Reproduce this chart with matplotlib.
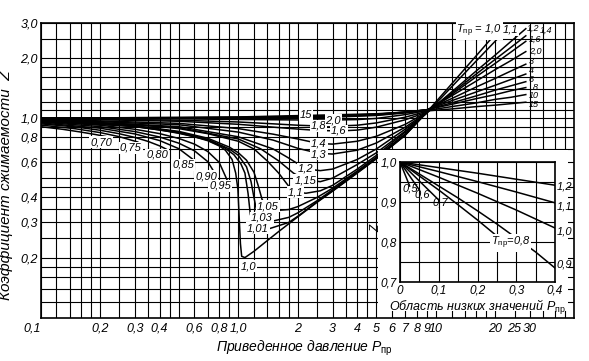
import matplotlib.pyplot as plt
from matplotlib.patches import Rectangle
from matplotlib.ticker import FixedLocator, NullFormatter

plt.rcParams['font.family'] = ['Liberation Sans', 'DejaVu Sans']
plt.rcParams['mathtext.fontset'] = 'custom'
plt.rcParams['mathtext.rm'] = 'Liberation Sans'
plt.rcParams['mathtext.it'] = 'Liberation Sans:italic'

# ===== 1. main chart data: reduced pressure P_pr and Z for each T_pr =====
# subcritical (vapour) curves
p_070 = [0.1, 0.13, 0.16, 0.19, 0.217]
z_070 = [0.905, 0.877, 0.85, 0.826, 0.805]
p_075 = [0.1, 0.15, 0.2, 0.25, 0.31]
z_075 = [0.922, 0.883, 0.845, 0.806, 0.758]
p_080 = [0.1, 0.15, 0.2, 0.25, 0.3, 0.35, 0.4, 0.43]
z_080 = [0.935, 0.902, 0.868, 0.834, 0.799, 0.763, 0.725, 0.70]
p_085 = [0.1, 0.2, 0.3, 0.4, 0.5, 0.59]
z_085 = [0.945, 0.889, 0.832, 0.771, 0.702, 0.62]
p_090 = [0.1, 0.2, 0.3, 0.4, 0.5, 0.6, 0.7, 0.76]
z_090 = [0.954, 0.905, 0.855, 0.803, 0.748, 0.685, 0.605, 0.53]
p_095 = [0.1, 0.2, 0.3, 0.4, 0.5, 0.6, 0.7, 0.8, 0.887]
z_095 = [0.96, 0.92, 0.878, 0.835, 0.79, 0.74, 0.68, 0.6, 0.478]

# supercritical curves
p_100 = [0.1, 0.2, 0.3, 0.4, 0.5, 0.6, 0.7, 0.8, 0.86, 0.93, 0.97, 0.995, 1.01, 1.025,
         1.04, 1.08, 1.2, 1.4, 1.6, 2.0, 2.5, 3.0, 4.0, 5.0, 7.0, 9.0, 12.0, 16.0, 20.0, 22.4]
z_100 = [0.967, 0.935, 0.905, 0.872, 0.838, 0.805, 0.77, 0.725, 0.69, 0.62, 0.53, 0.44, 0.32, 0.235,
         0.203, 0.2, 0.215, 0.243, 0.27, 0.32, 0.378, 0.43, 0.53, 0.625, 0.82, 1.07, 1.48, 2.05, 2.64, 3.0]
p_101 = [0.1, 0.3, 0.5, 0.7, 0.85, 0.95, 1.03, 1.08, 1.12, 1.15, 1.2, 1.26, 1.45, 1.8, 2.0,
         2.5, 3.0, 4.0, 5.0, 7.0, 9.0]
z_101 = [0.968, 0.907, 0.843, 0.775, 0.71, 0.655, 0.59, 0.53, 0.42, 0.33, 0.29, 0.281, 0.28, 0.30, 0.322,
         0.38, 0.432, 0.533, 0.628, 0.823, 1.07]
p_103 = [0.1, 0.3, 0.5, 0.7, 0.9, 1.0, 1.1, 1.16, 1.2, 1.24, 1.32, 1.5, 1.8, 2.0, 2.5, 3.0,
         4.0, 5.0, 7.0, 9.0]
z_103 = [0.969, 0.91, 0.85, 0.782, 0.70, 0.65, 0.57, 0.48, 0.40, 0.34, 0.316, 0.305, 0.318, 0.335, 0.385, 0.437,
         0.537, 0.632, 0.827, 1.07]
p_105 = [0.1, 0.3, 0.5, 0.7, 0.9, 1.0, 1.1, 1.2, 1.26, 1.32, 1.41, 1.6, 1.8, 2.0, 2.5, 3.0,
         4.0, 5.0, 7.0, 9.0]
z_105 = [0.971, 0.915, 0.857, 0.792, 0.715, 0.67, 0.615, 0.535, 0.46, 0.39, 0.362, 0.345, 0.348, 0.36, 0.40, 0.445,
         0.543, 0.638, 0.832, 1.07]
p_110 = [0.1, 0.3, 0.5, 0.7, 1.0, 1.2, 1.4, 1.6, 1.8, 1.94, 2.2, 2.6, 3.0, 4.0, 5.0, 7.0, 9.0,
         12.0, 16.0, 20.0, 24.5]
z_110 = [0.975, 0.93, 0.885, 0.835, 0.765, 0.70, 0.61, 0.53, 0.455, 0.426, 0.42, 0.432, 0.46, 0.555, 0.65, 0.85, 1.06,
         1.43, 1.93, 2.43, 3.0]
p_115 = [0.1, 0.5, 1.0, 1.3, 1.6, 1.9, 2.18, 2.6, 3.0, 4.0, 5.0, 7.0, 9.0]
z_115 = [0.978, 0.895, 0.785, 0.70, 0.61, 0.53, 0.49, 0.48, 0.50, 0.585, 0.67, 0.86, 1.06]
p_120 = [0.1, 0.5, 1.0, 1.5, 1.8, 2.2, 2.6, 3.0, 4.0, 5.0, 7.0, 9.0, 12.0, 16.0, 20.0, 24.0, 28.5]
z_120 = [0.981, 0.905, 0.805, 0.70, 0.63, 0.556, 0.545, 0.555, 0.62, 0.70, 0.88, 1.06, 1.35, 1.72, 2.07, 2.42, 2.8]
p_130 = [0.1, 0.5, 1.0, 1.5, 2.0, 2.56, 3.0, 4.0, 5.0, 7.0, 9.0]
z_130 = [0.985, 0.925, 0.85, 0.775, 0.705, 0.665, 0.66, 0.69, 0.75, 0.90, 1.065]
p_140 = [0.1, 0.5, 1.0, 1.5, 2.0, 2.56, 3.0, 4.0, 5.0, 7.0, 9.0, 12.0, 16.0, 20.0, 24.0, 28.5]
z_140 = [0.988, 0.94, 0.885, 0.83, 0.785, 0.745, 0.74, 0.765, 0.81, 0.93, 1.07, 1.33, 1.66, 1.97, 2.26, 2.58]
p_160 = [0.1, 0.5, 1.0, 1.5, 2.0, 2.5, 3.23, 4.0, 5.0, 7.0, 9.0, 12.0, 16.0, 20.0, 24.0, 28.5]
z_160 = [0.993, 0.963, 0.93, 0.90, 0.88, 0.867, 0.861, 0.87, 0.90, 0.98, 1.07, 1.31, 1.61, 1.88, 2.14, 2.42]
p_180 = [0.1, 0.5, 1.0, 1.5, 2.0, 2.54, 3.0, 4.0, 5.0, 7.0, 9.0]
z_180 = [0.995, 0.975, 0.955, 0.935, 0.92, 0.912, 0.91, 0.92, 0.945, 1.01, 1.08]
p_200 = [0.1, 0.5, 1.0, 2.0, 3.02, 4.0, 5.0, 7.0, 9.0, 12.0, 16.0, 20.0, 24.0, 28.5]
z_200 = [0.997, 0.99, 0.983, 0.978, 0.977, 0.982, 0.995, 1.04, 1.09, 1.29, 1.53, 1.75, 1.94, 2.15]
p_hi = [0.1, 1.0, 2.0, 3.0, 5.0, 7.0, 9.0, 12.0, 16.0, 20.0, 24.0, 28.5]
z_300 = [1.0, 1.0, 1.005, 1.01, 1.03, 1.06, 1.10, 1.25, 1.43, 1.58, 1.72, 1.86]
z_400 = [1.0, 1.003, 1.008, 1.014, 1.035, 1.065, 1.10, 1.22, 1.35, 1.46, 1.56, 1.66]
z_600 = [1.0, 1.005, 1.012, 1.02, 1.04, 1.07, 1.10, 1.19, 1.29, 1.38, 1.45, 1.52]
z_800 = [1.0, 1.006, 1.015, 1.023, 1.043, 1.07, 1.10, 1.17, 1.25, 1.31, 1.37, 1.42]
z_1000 = [1.0, 1.007, 1.018, 1.026, 1.045, 1.07, 1.09, 1.14, 1.19, 1.24, 1.27, 1.31]
p_1500 = [0.1, 0.5, 1.0, 2.2, 3.0, 5.0, 7.0, 9.0, 12.0, 16.0, 20.0, 24.0, 28.5]
z_1500 = [1.0, 1.005, 1.012, 1.03, 1.037, 1.05, 1.07, 1.085, 1.11, 1.14, 1.16, 1.18, 1.2]

# ===== 2. inset data (low P_pr region, linear axes) =====
ins_p_05, ins_z_05 = [0, 0.025], [1.0, 0.94]
ins_p_06, ins_z_06 = [0, 0.05], [1.0, 0.93]
ins_p_07, ins_z_07 = [0, 0.1], [1.0, 0.905]
ins_p_08 = [0, 0.05, 0.1, 0.15, 0.2, 0.25]
ins_z_08 = [1.0, 0.965, 0.93, 0.893, 0.855, 0.815]
ins_p_09 = [0, 0.05, 0.1, 0.15, 0.2, 0.25, 0.3, 0.35, 0.4]
ins_z_09 = [1.0, 0.97, 0.94, 0.91, 0.878, 0.845, 0.81, 0.775, 0.735]
ins_p = [0, 0.1, 0.2, 0.3, 0.4]
ins_z_10 = [1.0, 0.962, 0.922, 0.88, 0.835]
ins_z_11 = [1.0, 0.976, 0.951, 0.925, 0.898]
ins_z_12 = [1.0, 0.986, 0.972, 0.957, 0.942]

# tick labels
x_ticks = [0.1, 0.2, 0.3, 0.4, 0.6, 0.8, 1, 2, 3, 4, 5, 6, 7, 8, 9, 10, 20, 25, 30]
x_tick_labels = ['0,1', '0,2', '0,3', '0,4', '0,6', '0,8', '1,0', '2', '3', '4', '5',
                 '6', '7', '8', '9', '10', '20', '25', '30']
x_grid_extra = [0.12, 0.14, 0.16, 0.18, 0.25, 0.35, 0.45, 0.5, 0.7, 0.9, 1.2, 1.4, 1.6, 1.8,
                2.5, 3.5, 4.5, 12, 14, 16, 18, 35, 40, 45]
y_ticks = [0.2, 0.3, 0.4, 0.6, 0.8, 1.0, 2.0, 3.0]
y_tick_labels = ['0,2', '0,3', '0,4', '0,6', '0,8', '1,0', '2,0', '3,0']
y_grid_extra = [0.12, 0.14, 0.16, 0.18, 0.25, 0.35, 0.45, 0.5, 0.7, 0.9, 1.1, 1.2, 1.4,
                1.6, 1.8, 2.5]

# ===== 3. figure =====
fig = plt.figure(figsize=(5.89, 3.61), dpi=100)
ax = fig.add_axes([0.0691, 0.1199, 0.9055, 0.8172])
ax.set_xscale('log')
ax.set_yscale('log')
ax.set_xlim(0.1, 50)
ax.set_ylim(0.1, 3.0)

ax.xaxis.set_major_locator(FixedLocator(x_ticks))
ax.xaxis.set_minor_locator(FixedLocator(x_grid_extra))
ax.yaxis.set_major_locator(FixedLocator(y_ticks))
ax.yaxis.set_minor_locator(FixedLocator(y_grid_extra))
ax.xaxis.set_minor_formatter(NullFormatter())
ax.yaxis.set_minor_formatter(NullFormatter())
ax.set_xticklabels(x_tick_labels, fontsize=9, fontstyle='italic')
ax.set_yticklabels(y_tick_labels, fontsize=9, fontstyle='italic')
ax.get_xticklabels()[0].set_horizontalalignment('right')
ax.tick_params(which='both', length=0)
ax.tick_params(axis='x', pad=3.5)
ax.tick_params(axis='y', pad=2)
ax.grid(which='both', color='black', linewidth=0.8)
for s in ax.spines.values():
    s.set_linewidth(1.2)

curves = [(p_070, z_070), (p_075, z_075), (p_080, z_080), (p_085, z_085),
          (p_090, z_090), (p_095, z_095), (p_100, z_100), (p_101, z_101),
          (p_103, z_103), (p_105, z_105), (p_110, z_110), (p_115, z_115),
          (p_120, z_120), (p_130, z_130), (p_140, z_140), (p_160, z_160),
          (p_180, z_180), (p_200, z_200), (p_hi, z_300), (p_hi, z_400),
          (p_hi, z_600), (p_hi, z_800), (p_hi, z_1000), (p_1500, z_1500)]
for p, z in curves:
    ax.plot(p, z, color='black', linewidth=1.1, zorder=3)

# curve labels (they break the line like in the printed chart)
lab_style = dict(fontsize=8, fontstyle='italic', ha='center', va='center', zorder=5,
                 bbox=dict(facecolor='white', edgecolor='none', pad=0.6))
main_labels = [("0,70", 0.202, 0.758), ("0,75", 0.286, 0.708), ("0,80", 0.388, 0.653),
               ("0,85", 0.525, 0.582), ("0,90", 0.686, 0.512), ("0,95", 0.808, 0.457),
               ("1,0", 1.12, 0.181), ("1,01", 1.26, 0.281), ("1,03", 1.32, 0.316),
               ("1,05", 1.41, 0.362), ("1,1", 1.94, 0.426), ("1,15", 2.18, 0.489),
               ("1,2", 2.2, 0.556), ("1,3", 2.56, 0.66), ("1,4", 2.56, 0.741),
               ("1,6", 3.23, 0.861), ("1,8", 2.54, 0.912), ("2,0", 3.02, 0.977),
               ("15", 2.2, 1.034)]
for s, p, z in main_labels:
    ax.text(p, z, s, **lab_style)

ax.text(21.6, 2.73, r'$T_{\mathrm{пр}}$ = 1,0', fontsize=8, fontstyle='italic',
        ha='right', va='center', zorder=5,
        bbox=dict(facecolor='white', edgecolor='none', pad=0.4))
ax.text(23.9, 2.76, '1,1', **lab_style)
right_labels = [("1,2", 28.8, 2.82), ("1,4", 33.5, 2.74), ("1,6", 29.5, 2.47),
                ("2,0", 29.5, 2.16), ("3", 29.5, 1.915), ("4", 29.5, 1.72),
                ("6", 29.5, 1.56), ("8", 31.0, 1.421), ("10", 29.5, 1.289),
                ("15", 29.5, 1.17)]
for s, p, z in right_labels:
    ax.text(p, z, s, fontsize=6.5, fontstyle='italic', ha='left', va='center', zorder=5)

ax.set_xlabel(r'Приведенное давление $P_{\mathrm{пр}}$', fontsize=10,
              fontstyle='italic')
ax.xaxis.set_label_coords(0.495, -0.07)
ax.set_ylabel('Коэффициент сжимаемости  Z', fontsize=11, fontstyle='italic')
ax.yaxis.set_label_coords(-0.052, 0.45)

# ===== 4. white box and inset =====
fig.add_artist(Rectangle((0.6418, 0.1385), 0.3225, 0.446, transform=fig.transFigure,
                         facecolor='white', edgecolor='none', zorder=1))

ins = fig.add_axes([0.6791, 0.2188, 0.2632, 0.3324])
ins.set_zorder(2)
ins.set_xlim(0, 0.4)
ins.set_ylim(0.7, 1.0)
ins.set_xticks([0, 0.1, 0.2, 0.3, 0.4])
ins.set_xticklabels(['0', '0,1', '0,2', '0,3', '0,4'], fontsize=8.5, fontstyle='italic')
ins.set_yticks([0.7, 0.8, 0.9, 1.0])
ins.set_yticklabels(['0,7', '0,8', '0,9', '1,0'], fontsize=8.5, fontstyle='italic')
ins.set_xticks([0.05, 0.15, 0.25, 0.35], minor=True)
ins.set_yticks([0.75, 0.85, 0.95], minor=True)
ins.tick_params(which='both', length=0, pad=2)
ins.grid(which='both', color='black', linewidth=0.8)
for s in ins.spines.values():
    s.set_linewidth(1.2)

for p, z in [(ins_p_05, ins_z_05), (ins_p_06, ins_z_06), (ins_p_07, ins_z_07),
             (ins_p_08, ins_z_08), (ins_p_09, ins_z_09), (ins_p, ins_z_10),
             (ins_p, ins_z_11), (ins_p, ins_z_12)]:
    ins.plot(p, z, color='black', linewidth=1.1, zorder=3)

ins_lab = dict(fontsize=8, fontstyle='italic', va='center', zorder=5)
ins.text(0.026, 0.935, '0,5', ha='center', **ins_lab)
ins.text(0.058, 0.918, '0,6', ha='center', **ins_lab)
ins.text(0.103, 0.898, '0,7', ha='center', **ins_lab)
ins.text(0.285, 0.797, r'$T_{\mathrm{пр}}$=0,8', ha='center',
         bbox=dict(facecolor='white', edgecolor='none', pad=0.5), **ins_lab)
for s, z in [('1,2', 0.939), ('1,1', 0.889), ('1,0', 0.8275), ('0,9', 0.745)]:
    ins.text(0.405, z, s, ha='left', **ins_lab)

ins.set_xlabel(r'Область низких значений $P_{\mathrm{пр}}$', fontsize=9,
               fontstyle='italic', labelpad=1)
ins.set_ylabel('Z', fontsize=8.5, fontstyle='italic')
ins.yaxis.set_label_coords(-0.115, 0.45)

fig.savefig('out.png', dpi=100)
